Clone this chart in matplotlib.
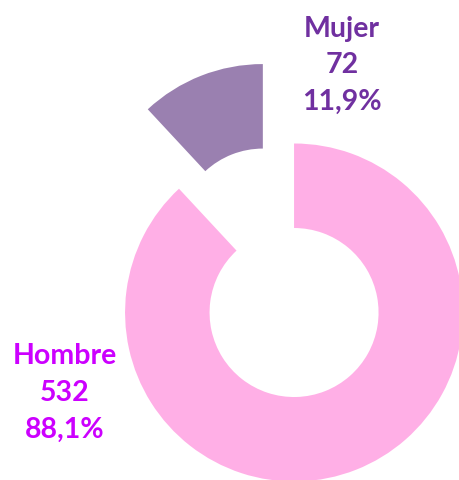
import matplotlib
matplotlib.use("Agg")
import matplotlib.pyplot as plt

# data
labels = ['Hombre', 'Mujer']
counts = [532, 72]
pcts = ['88,1%', '11,9%']
colors = ['#FFAFE6', '#9A80B0']
text_colors = ['#CC00FF', '#7030A0']

fig = plt.figure(figsize=(4.59, 4.81), dpi=100)
ax = fig.add_axes([0, 0, 1, 1])

ax.pie(counts, colors=colors, startangle=90, counterclock=False,
       explode=[0, 0.505], radius=1.0,
       wedgeprops=dict(width=0.5, linewidth=0))

# place the view so the donut is slightly cropped like the original
ax.set_xlim(-1.740, 0.976)
ax.set_ylim(-0.991, 1.855)
ax.set_aspect('auto')
ax.axis('off')

label_pos = [(-1.355, -0.47), (0.284, 1.47)]
for lab, n, p, c, (x, y) in zip(labels, counts, pcts, text_colors, label_pos):
    ax.text(x, y, lab + '\n' + str(n) + '\n' + p, ha='center', va='center',
            color=c, fontsize=20.5, fontweight='bold', family='Lato',
            linespacing=1.5)

plt.savefig('out.png', dpi=100)
